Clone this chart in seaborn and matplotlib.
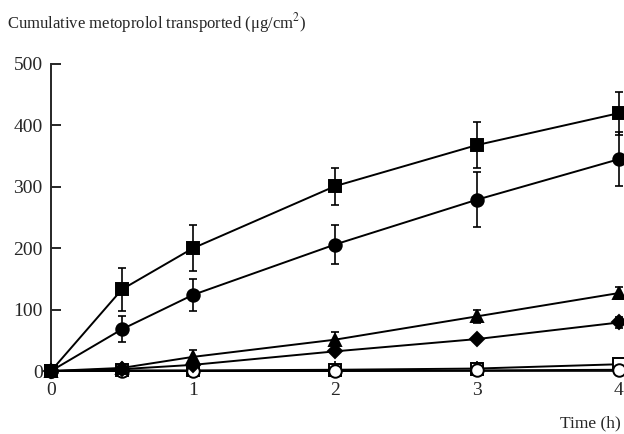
import numpy as np
import pandas as pd
import seaborn as sns
import matplotlib.pyplot as plt

# time points (h)
time = [0, 0.5, 1, 2, 3, 4]

# cumulative metoprolol transported (ug/cm2)
sq_filled = [0, 133, 200, 301, 368, 420]
sq_filled_err = [0, 35, 37, 30, 37, 35]
circ_filled = [0, 68, 124, 206, 279, 345]
circ_filled_err = [0, 21, 26, 32, 45, 44]
tri_filled = [0, 5, 23, 51, 89, 127]
tri_filled_err = [0, 3, 11, 13, 11, 10]
dia_filled = [0, 3, 10, 32, 52, 79]
dia_filled_err = [0, 1, 3, 5, 5, 9]
sq_open = [0, 1, 1, 2, 4, 11]
circ_open = [0, 0, 0, 0, 1, 2]

sns.set_style('ticks')
plt.rcParams['font.family'] = ['Liberation Serif', 'DejaVu Serif']
plt.rcParams['mathtext.fontset'] = 'stix'

fig = plt.figure(figsize=(6.24, 4.34), dpi=100)
ax = fig.add_axes([51/624, 1 - 371/434, (619 - 51)/624, (371 - 64)/434])

series = [
    (sq_open, None, 's', 'white'),
    (circ_open, None, 'o', 'white'),
    (dia_filled, dia_filled_err, 'D', 'black'),
    (tri_filled, tri_filled_err, '^', 'black'),
    (circ_filled, circ_filled_err, 'o', 'black'),
    (sq_filled, sq_filled_err, 's', 'black'),
]

for vals, err, mk, fc in series:
    df = pd.DataFrame({'t': time, 'v': vals})
    ms = 7 if mk == 'D' else 9
    sns.lineplot(data=df, x='t', y='v', ax=ax, color='black', lw=1.4,
                 marker=mk, markersize=ms, markerfacecolor=fc,
                 markeredgecolor='black', markeredgewidth=1.4,
                 clip_on=False, zorder=3)
    if err is not None:
        ax.errorbar(time[1:], vals[1:], yerr=err[1:], fmt='none',
                    ecolor='black', elinewidth=1.2, capsize=3,
                    capthick=1.2, clip_on=False, zorder=2)

ax.set_xlim(0, 4)
ax.set_ylim(0, 500)
ax.set_xticks([0, 1, 2, 3, 4])
ax.set_yticks([0, 100, 200, 300, 400, 500])
ax.tick_params(direction='in', length=7, width=1.4, labelsize=14)
ax.tick_params(axis='x', pad=8)
ax.tick_params(axis='y', pad=6)
ax.set_xlabel('')
ax.set_ylabel('')
for s in ['top', 'right']:
    ax.spines[s].set_visible(False)
for s in ['left', 'bottom']:
    ax.spines[s].set_linewidth(1.4)

fig.text(7/624, 1 - 28/434, 'Cumulative metoprolol transported (μg/cm$^2$)',
         fontsize=12, ha='left', va='baseline')
fig.text(621/624, 1 - 427/434, 'Time (h)', fontsize=12.5, ha='right', va='baseline')

fig.savefig('out.png', dpi=100)
